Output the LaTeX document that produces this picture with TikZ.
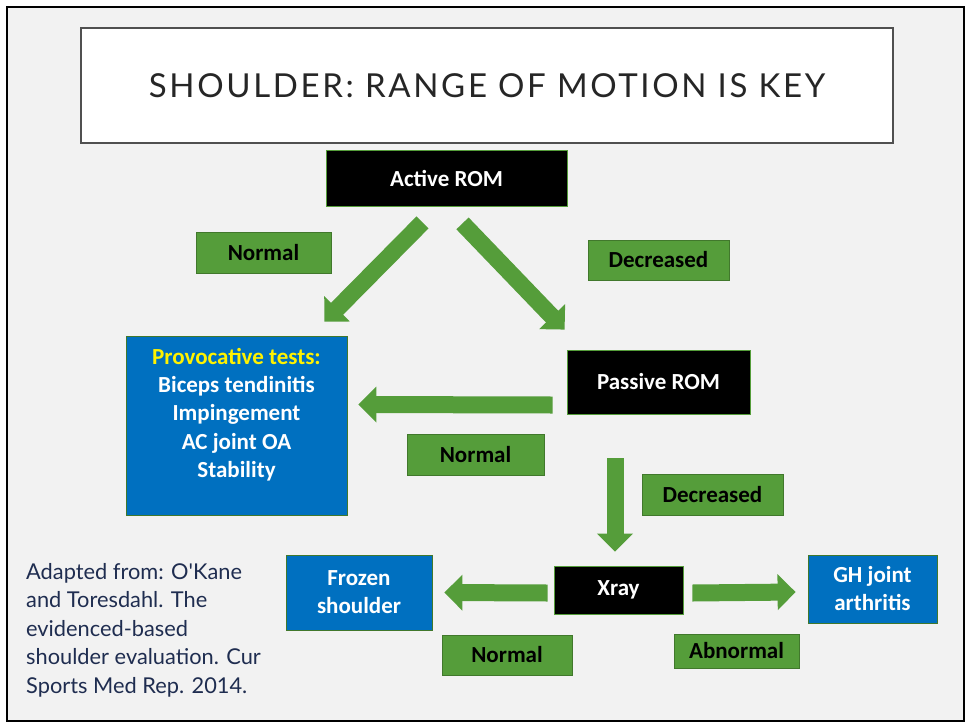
\documentclass[tikz,border=0pt]{standalone}
\usepackage{fontspec}
\setmainfont{Carlito}
\newfontfamily\gillfont{Lato}
\usetikzlibrary{arrows.meta}
\definecolor{slidegray}{HTML}{F2F2F2}
\definecolor{boxgreen}{HTML}{559D3A}
\definecolor{edgegreen}{HTML}{41782C}
\definecolor{boxblue}{HTML}{0070C0}
\definecolor{citeblue}{HTML}{1F2D50}
\definecolor{titlegray}{HTML}{505050}
\definecolor{titletext}{HTML}{262626}

\begin{document}
\begin{tikzpicture}[x=1pt,y=-1pt,
    boxtext/.style={font=\fontsize{23}{28}\selectfont\bfseries, inner sep=0pt, align=center},
    greenbox/.style={boxtext, draw=edgegreen, fill=boxgreen, line width=0.8pt, text=black},
    blackbox/.style={boxtext, draw=boxgreen, fill=black, line width=0.8pt, text=white},
    bluebox/.style={boxtext, draw=edgegreen, fill=boxblue, line width=0.8pt, text=white},
    flowarrow/.style={draw=boxgreen, line width=17pt, -{Triangle[length=18pt,width=35pt]}}]
    \useasboundingbox (0,0) rectangle (969,723);
    \draw[line width=2pt, fill=slidegray] (7,7) rectangle (964,721);

    \node[draw=titlegray, line width=2.5pt, fill=white, minimum width=812pt, minimum height=115pt,
        inner sep=0pt, text=titletext, font=\gillfont\addfontfeatures{LetterSpace=8}\fontsize{33}{40}\selectfont]
        (title) at (487,85.5) {SHOULDER: RANGE OF MOTION IS KEY};

    \node[blackbox, minimum width=241pt, minimum height=56pt] (active) at (446.5,178) {Active ROM};
    \node[greenbox, minimum width=135pt, minimum height=41pt] (normal1) at (263.5,252.5) {Normal};
    \node[greenbox, minimum width=141pt, minimum height=40pt] (decreased1) at (658.5,260) {Decreased};
    \node[bluebox, inner sep=7pt] (prov) at (236.5,425.5)
        {\parbox[c][165pt][t]{207pt}{\centering\fontsize{23}{28.3}\selectfont\vspace*{5pt}
        \textcolor{yellow}{Provocative tests:}\\ Biceps tendinitis\\ Impingement\\ AC joint OA\\ Stability}};
    \node[blackbox, minimum width=183pt, minimum height=64pt] (passive) at (658.5,382) {Passive ROM};
    \node[greenbox, minimum width=137pt, minimum height=41pt] (normal2) at (475.5,454.5) {Normal};
    \node[greenbox, minimum width=141pt, minimum height=41pt] (decreased2) at (712.5,494.5) {Decreased};
    \node[blackbox, minimum width=129pt, minimum height=48pt] (xray) at (618.5,590) {Xray};
    \node[bluebox, minimum width=146pt, minimum height=75pt] (frozen) at (359,592.5) {Frozen\\ shoulder};
    \node[greenbox, minimum width=130pt, minimum height=40pt] (normal3) at (507,655) {Normal};
    \node[bluebox, minimum width=129pt, minimum height=68pt] (gh) at (872.5,589) {GH joint\\ arthritis};
    \node[greenbox, minimum width=125pt, minimum height=34pt] (abnormal) at (736.5,651) {Abnormal};

    \node[anchor=north west, inner sep=0pt, align=left, text=citeblue,
        font=\gillfont\fontsize{21.8}{28.5}\selectfont] (cite) at (26,563)
        {Adapted from: O'Kane\\ and Toresdahl. The\\ evidenced-based\\ shoulder evaluation. Cur\\ Sports Med Rep. 2014.};

    \draw[flowarrow] ([xshift=-24pt,yshift=-16pt]active.south) -- ([xshift=-23pt,yshift=14pt]prov.north east);
    \draw[flowarrow] ([xshift=16pt,yshift=-17pt]active.south) -- ([xshift=-2pt,yshift=20pt]passive.north west);
    \draw[flowarrow] ([xshift=-14pt,yshift=-23pt]passive.west) -- ([xshift=11pt,yshift=21pt]prov.east);
    \draw[flowarrow] ([xshift=-43.5pt,yshift=-44pt]passive.south) -- ([xshift=-3.5pt,yshift=14pt]xray.north);
    \draw[flowarrow] ([xshift=-6pt,yshift=-3pt]xray.west) -- ([xshift=12pt]frozen.east);
    \draw[flowarrow] ([xshift=9pt,yshift=-3pt]xray.east) -- ([xshift=-12pt,yshift=-3pt]gh.west);
\end{tikzpicture}
\end{document}
